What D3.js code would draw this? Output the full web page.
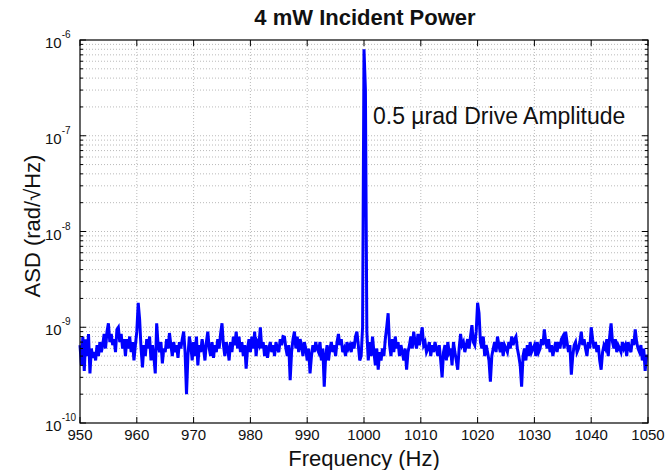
<!DOCTYPE html>
<html><head><meta charset="utf-8">
<script src="https://cdn.jsdelivr.net/npm/d3@7"></script>
<style>body{margin:0;background:#fff}svg{font-family:"Liberation Sans",Arial,sans-serif}</style>
</head><body><svg id="c" width="665" height="470"></svg>
<script>
// Data (ASD values in units of 1e-10 rad/sqrt(Hz)), 0.25 Hz spacing from 950 to 1050 Hz
const freqStart = 950, freqStep = 0.25;
const asdE10 = [
6.5,4.0,8.0,3.5,7.5,5.0,8.5,3.3,
6.0,4.8,5.5,4.5,6.5,5.0,7.0,5.5,
6.5,8.5,6.0,9.0,11.0,7.0,8.5,6.5,
7.5,5.5,9.5,10.0,7.0,8.5,6.0,7.5,
5.0,7.5,6.0,8.0,5.5,7.0,4.5,6.5,
9.0,18.0,12.0,6.0,3.8,6.5,5.0,7.5,
6.0,8.0,4.5,6.5,5.0,3.3,11.0,6.5,
5.5,7.0,4.2,6.0,5.5,7.5,6.0,8.7,
6.5,5.0,7.0,5.5,6.5,4.8,7.0,6.0,
7.5,9.0,5.5,2.0,5.0,8.0,6.5,4.5,
7.0,5.0,8.0,4.0,6.5,5.5,7.5,6.0,
4.5,7.0,9.0,6.0,5.0,7.0,4.8,6.5,
5.5,7.5,6.0,8.5,11.0,6.5,5.0,7.0,
6.0,4.5,7.0,5.5,8.0,6.5,9.0,6.0,
8.0,5.5,7.0,5.0,6.5,3.7,6.0,7.5,
5.5,8.0,6.0,9.0,5.0,7.0,6.5,10.0,
6.0,7.0,5.0,6.5,4.8,6.0,7.0,5.5,
6.5,5.0,7.0,6.0,5.5,7.5,6.5,8.0,
7.9,6.0,5.0,6.5,2.8,5.5,7.5,9.0,
6.0,8.0,5.5,7.5,6.5,5.0,7.0,6.0,
4.5,6.0,3.3,5.0,6.5,5.5,7.0,6.0,
5.5,7.0,4.5,6.0,2.4,5.0,6.5,4.5,
6.0,7.0,5.5,6.5,5.0,7.0,8.5,6.5,
7.5,5.5,6.0,5.0,7.0,6.0,6.5,5.5,
7.0,6.0,8.0,9.0,6.5,4.5,5.0,10.0,
8000,3000,9.0,4.5,7.0,5.0,8.0,5.5,
4.0,6.0,3.6,5.5,4.5,6.0,5.0,7.5,
10.0,14.0,6.5,5.0,7.5,5.5,8.0,6.0,
7.0,5.0,6.5,5.5,4.5,6.0,3.6,5.5,
6.5,8.0,6.0,9.0,7.0,6.0,8.5,6.5,
8.0,10.0,6.5,7.0,5.5,6.0,7.0,5.0,
6.5,5.5,7.0,6.0,5.0,6.5,4.5,3.0,
5.5,6.5,4.5,7.0,5.5,6.0,4.0,7.0,
5.5,4.5,3.6,6.0,8.5,6.5,7.0,5.5,
6.5,7.5,6.0,8.0,10.5,7.0,6.5,9.0,
18.0,14.0,7.0,6.0,8.0,5.0,6.5,5.5,
4.5,2.7,5.0,6.0,7.0,5.5,8.0,6.5,
5.5,7.0,5.0,6.5,6.0,5.5,7.0,6.0,
8.0,6.5,7.5,8.0,6.0,5.0,4.0,2.4,
5.0,6.0,4.5,6.5,5.0,7.0,5.5,6.0,
6.5,5.0,7.0,5.5,6.0,7.5,6.5,9.5,
7.0,6.0,7.5,5.5,6.5,5.0,6.0,7.0,
5.5,7.0,6.0,7.5,8.0,6.0,9.0,7.0,
5.5,6.5,3.2,5.0,6.5,7.0,5.5,6.0,
7.0,9.0,6.5,7.5,6.0,5.0,7.0,6.0,
10.0,7.5,6.0,7.0,5.5,6.5,4.5,3.6,
5.5,6.5,6.0,7.5,5.0,8.0,11.0,7.0,
6.0,7.5,5.5,6.5,6.0,5.5,7.0,6.0,
6.5,5.0,7.0,6.0,5.5,7.5,6.5,9.5,
7.0,6.0,5.5,6.5,4.5,6.0,3.5,5.0,
5.0
];
const xTicks = [950,960,970,980,990,1000,1010,1020,1030,1040,1050];
const yExponents = [-10,-9,-8,-7,-6];
const title = "4 mW Incident Power";
const xTitle = "Frequency (Hz)";
const yTitle = "ASD (rad/\u221AHz)";
const annotation = "0.5 \u00B5rad Drive Amplitude";

const data = asdE10.map((v,i)=>({f: freqStart + i*freqStep, a: v*1e-10}));

const L=80, R=648, T=40, B=423;
const svg = d3.select("#c");
const x = d3.scaleLinear().domain([950,1050]).range([L,R]);
const y = d3.scaleLog().domain([1e-10,1e-6]).range([B,T]);

const yAll = [];
for (let e=-10; e<-6; e++) for (let m=1; m<10; m++) yAll.push(m*Math.pow(10,e));
yAll.push(1e-6);

const grid = svg.append("g").attr("stroke","#a8a8a8").attr("stroke-width",0.8).attr("stroke-dasharray","1,2");
yAll.forEach(v=>{ if(v>1e-10 && v<1e-6) grid.append("line").attr("x1",L).attr("x2",R).attr("y1",y(v)).attr("y2",y(v)); });
xTicks.forEach(v=>{ if(v>950 && v<1050) grid.append("line").attr("y1",T).attr("y2",B).attr("x1",x(v)).attr("x2",x(v)); });

svg.append("path").datum(data)
  .attr("fill","none").attr("stroke","#0000ff").attr("stroke-width",3).attr("stroke-linejoin","miter")
  .attr("d", d3.line().x(d=>x(d.f)).y(d=>y(d.a)));

const tk = svg.append("g").attr("stroke","#000").attr("stroke-width",1);
yAll.forEach(v=>{
  const major = Math.abs(Math.log10(v) - Math.round(Math.log10(v))) < 1e-9;
  const len = major ? 6 : 3;
  tk.append("line").attr("x1",L).attr("x2",L+len).attr("y1",y(v)).attr("y2",y(v));
  tk.append("line").attr("x1",R).attr("x2",R-len).attr("y1",y(v)).attr("y2",y(v));
});
xTicks.forEach(v=>{
  tk.append("line").attr("y1",B).attr("y2",B-6).attr("x1",x(v)).attr("x2",x(v));
  tk.append("line").attr("y1",T).attr("y2",T+6).attr("x1",x(v)).attr("x2",x(v));
});
svg.append("rect").attr("x",L).attr("y",T).attr("width",R-L).attr("height",B-T)
  .attr("fill","none").attr("stroke","#000").attr("stroke-width",1.2);

svg.append("g").selectAll("text").data(xTicks).join("text")
  .attr("x",d=>x(d)).attr("y",B+17).attr("text-anchor","middle")
  .attr("font-size",15).attr("fill","#111").text(d=>d);

const yl = svg.append("g").attr("fill","#111");
yExponents.forEach(e=>{
  const t = yl.append("text").attr("x",45).attr("y",y(Math.pow(10,e))+8).attr("font-size",15);
  t.append("tspan").text("10");
  t.append("tspan").attr("dy",-10).attr("font-size",10).text(e<0 ? "-"+(-e) : e);
});

svg.append("text").attr("x",365).attr("y",25).attr("text-anchor","middle")
  .attr("font-size",22).attr("font-weight","bold").attr("fill","#111").text(title);
svg.append("text").attr("x",364).attr("y",466).attr("text-anchor","middle")
  .attr("font-size",22).attr("fill","#111").text(xTitle);
svg.append("text").attr("transform","translate(40,226) rotate(-90)").attr("text-anchor","middle")
  .attr("font-size",22).attr("fill","#111").text(yTitle);
svg.append("text").attr("x",373).attr("y",124).attr("font-size",23).attr("fill","#111").text(annotation);
</script></body></html>
